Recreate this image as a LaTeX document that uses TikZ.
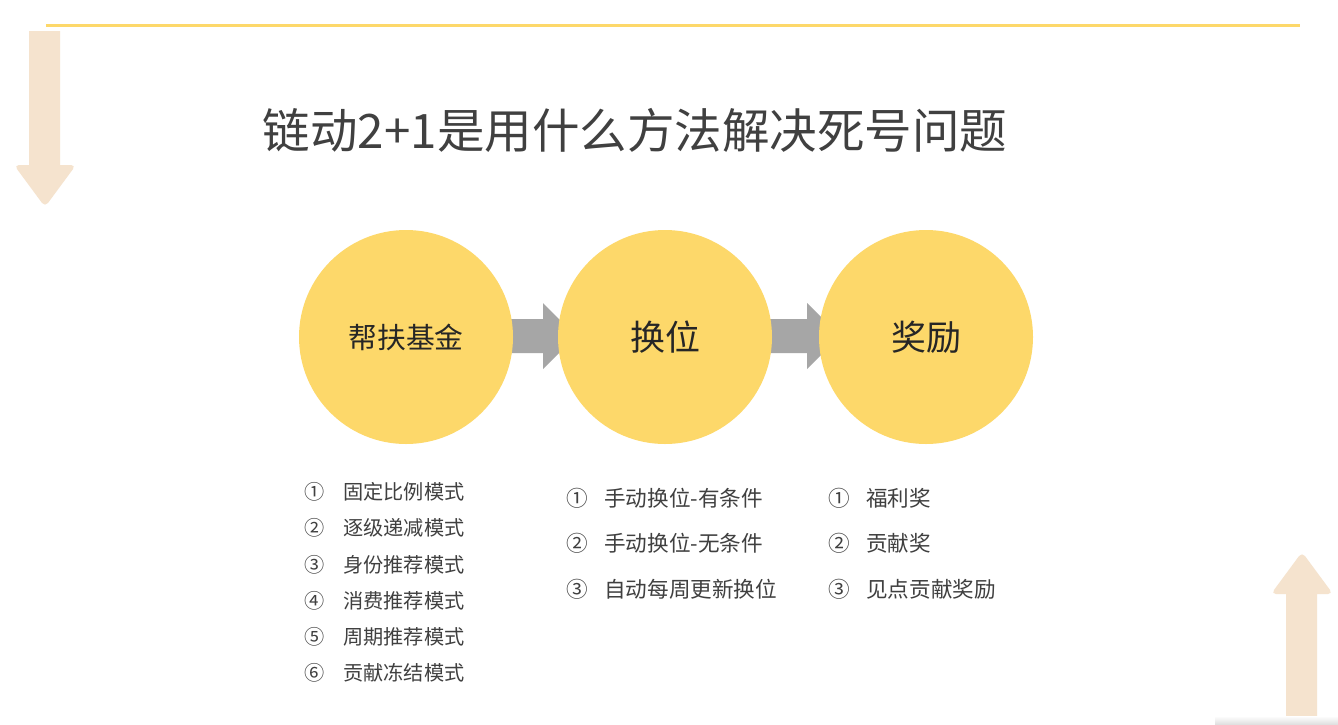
\documentclass[tikz,border=0pt]{standalone}
\usepackage{fontspec}
\setmainfont{Noto Sans CJK SC}
\newfontfamily\cjk{Noto Sans CJK SC}
\definecolor{ylw}{HTML}{FDD86A}
\definecolor{peach}{HTML}{F5E3CE}
\definecolor{gry}{HTML}{A6A6A6}
\definecolor{txtd}{HTML}{404040}
\definecolor{txtk}{HTML}{262626}
\tikzset{
  bubble/.style={circle, fill=ylw, minimum size=214pt, inner sep=0pt, text=txtk},
  item/.style={anchor=west, inner sep=0pt, text=txtd, font=\cjk\fontsize{20.2}{20}\selectfont},
  itemb/.style={anchor=west, inner sep=0pt, text=txtd, font=\cjk\fontsize{21.6}{21}\selectfont},
  blockarrow/.style={fill=gry, draw=none},
  bgarrow/.style={fill=peach, draw=none}
}
\begin{document}
\begin{tikzpicture}[x=1pt, y=-1pt]
\useasboundingbox (0,0) rectangle (1338,724);
\fill[white] (0,0) rectangle (1338,724);
% top line
\draw[ylw, line width=3pt] (46,25) -- (1300,25);
% decorative arrows
\fill[bgarrow] (29,31) -- (60,31) -- (60,165) [rounded corners=5pt] -- (76,165) -- (45,207) -- (14,165) [sharp corners] -- (29,165) -- cycle;
\fill[bgarrow] (1286,724) -- (1317,724) -- (1317,594) [rounded corners=5pt] -- (1333,594) -- (1302,552) -- (1271,594) [sharp corners] -- (1286,594) -- cycle;
% bottom faint shadow
\shade[top color=white, bottom color=black!12] (1215,716) rectangle (1338,724);
% title
\node[text=txtd, font=\cjk\fontsize{47.5}{47}\selectfont, inner sep=0pt] (title) at (635,130) {链动2+1是用什么方法解决死号问题};
% block arrows (behind circles)
\fill[blockarrow] (505,319) -- (543,319) -- (543,303) -- (576,336) -- (543,369) -- (543,353) -- (505,353) -- cycle;
\fill[blockarrow] (765,319) -- (807,319) -- (807,303) -- (840,336) -- (807,369) -- (807,353) -- (765,353) -- cycle;
% circles
\node[bubble, font=\cjk\fontsize{28.8}{28}\selectfont] (c1) at (406,337) {帮扶基金};
\node[bubble, font=\cjk\fontsize{35}{35}\selectfont] (c2) at (665,337) {换位};
\node[bubble, font=\cjk\fontsize{35}{35}\selectfont] (c3) at (926,337) {奖励};
% left list
\foreach \n/\t [count=\i] in {①/固定比例模式, ②/逐级递减模式, ③/身份推荐模式, ④/消费推荐模式, ⑤/周期推荐模式, ⑥/贡献冻结模式} {
  \node[item] (ln\i) at (304,{492+(\i-1)*36.2}) {\n};
  \node[item] (lt\i) at (343,{492+(\i-1)*36.2}) {\t};
}
% middle list
\foreach \n/\t [count=\i] in {①/手动换位-有条件, ②/手动换位-无条件, ③/自动每周更新换位} {
  \node[itemb] (mn\i) at (566,{498+(\i-1)*45.5}) {\n};
  \node[itemb] (mt\i) at (604,{498+(\i-1)*45.5}) {\t};
}
% right list
\foreach \n/\t [count=\i] in {①/福利奖, ②/贡献奖, ③/见点贡献奖励} {
  \node[itemb] (rn\i) at (828,{498+(\i-1)*45.5}) {\n};
  \node[itemb] (rt\i) at (866,{498+(\i-1)*45.5}) {\t};
}
\end{tikzpicture}
\end{document}
